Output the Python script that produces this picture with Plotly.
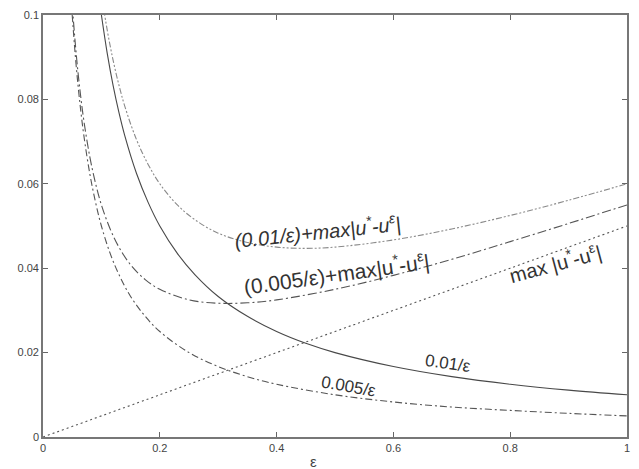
import plotly.graph_objects as go

# --- data ---
# curves with coefficient 0.01
eps_a = [0.10, 0.11, 0.12, 0.13, 0.14, 0.16, 0.18, 0.20, 0.23, 0.26, 0.30, 0.35,
         0.40, 0.45, 0.50, 0.60, 0.70, 0.80, 0.90, 1.00]
y_01 = [0.1000, 0.0909, 0.0833, 0.0769, 0.0714, 0.0625, 0.0556, 0.0500, 0.0435,
        0.0385, 0.0333, 0.0286, 0.0250, 0.0222, 0.0200, 0.0167, 0.0143, 0.0125,
        0.0111, 0.0100]
y_01_max = [0.1050, 0.0964, 0.0893, 0.0834, 0.0784, 0.0705, 0.0646, 0.0600, 0.0550,
            0.0515, 0.0483, 0.0461, 0.0450, 0.0447, 0.0450, 0.0467, 0.0493, 0.0525,
            0.0561, 0.0600]

# curves with coefficient 0.005
eps_b = [0.050, 0.055, 0.060, 0.065, 0.070, 0.080, 0.090, 0.100, 0.115, 0.130,
         0.150, 0.175, 0.200, 0.250, 0.300, 0.350, 0.400, 0.500, 0.600, 0.700,
         0.800, 0.900, 1.000]
y_005 = [0.1000, 0.0909, 0.0833, 0.0769, 0.0714, 0.0625, 0.0556, 0.0500, 0.0435,
         0.0385, 0.0333, 0.0286, 0.0250, 0.0200, 0.0167, 0.0143, 0.0125, 0.0100,
         0.0083, 0.0071, 0.0063, 0.0056, 0.0050]
y_005_max = [0.1025, 0.0937, 0.0863, 0.0802, 0.0749, 0.0665, 0.0601, 0.0550, 0.0493,
             0.0450, 0.0408, 0.0373, 0.0350, 0.0325, 0.0317, 0.0318, 0.0325, 0.0350,
             0.0383, 0.0421, 0.0463, 0.0506, 0.0550]

# max |u* - u^eps|
eps_c = [0.0, 0.2, 0.4, 0.6, 0.8, 1.0]
y_max = [0.0, 0.01, 0.02, 0.03, 0.04, 0.05]

x_ticks = [0, 0.2, 0.4, 0.6, 0.8, 1]
y_ticks = [0, 0.02, 0.04, 0.06, 0.08, 0.1]

fig = go.Figure()

def add(x, y, color, dash, width=1.1):
    fig.add_trace(go.Scatter(x=x, y=y, mode="lines", line_shape="spline",
                             line=dict(color=color, width=width, dash=dash),
                             showlegend=False, hoverinfo="skip"))

add(eps_c, y_max, "#555555", "2px,3px")
add(eps_b, y_005, "#555555", "7px,3px,2px,3px")
add(eps_a, y_01, "#484848", "solid")
add(eps_b, y_005_max, "#555555", "9px,3px,2px,3px")
add(eps_a, y_01_max, "#8a8a8a", "6px,2px,2px,2px,2px,2px")

FAM = "Liberation Sans, Arial, sans-serif"
labels = [
    ("<i>(0.01/ε)+max|u<sup>*</sup>-u<sup>ε</sup>|</i>", 0.470, 0.0490, -6, 20),
    ("(0.005/ε)+max|u<sup>*</sup>-u<sup>ε</sup>|", 0.503, 0.0388, -8, 21),
    ("max |u<sup>*</sup>-u<sup>ε</sup>|", 0.876, 0.0413, -15, 20),
    ("0.01/ε", 0.693, 0.0173, 8, 17),
    ("0.005/ε", 0.523, 0.0119, 10, 17),
]
for txt, xx, yy, ang, sz in labels:
    fig.add_annotation(x=xx, y=yy, xref="x", yref="y", text=txt, showarrow=False,
                       textangle=ang, font=dict(family=FAM, size=sz, color="#333333"),
                       xanchor="center", yanchor="middle")

fig.add_annotation(x=0.463, y=-0.058, xref="paper", yref="paper", text="ε",
                   showarrow=False, font=dict(family=FAM, size=15, color="#444444"),
                   xanchor="center", yanchor="middle")

axis_common = dict(showgrid=False, zeroline=False, showline=True, linecolor="#777777",
                   linewidth=1.6, mirror="ticks", ticks="inside", ticklen=5,
                   tickwidth=1.2, tickcolor="#666666",
                   tickfont=dict(family=FAM, size=11, color="#444444"))

fig.update_xaxes(range=[0, 1], tickvals=x_ticks, **axis_common)
fig.update_yaxes(range=[0, 0.1], tickvals=y_ticks, **axis_common)

fig.update_layout(width=639, height=469, margin=dict(l=43, r=9, t=10, b=32),
                  paper_bgcolor="white", plot_bgcolor="white")

fig.write_html("out.html")
